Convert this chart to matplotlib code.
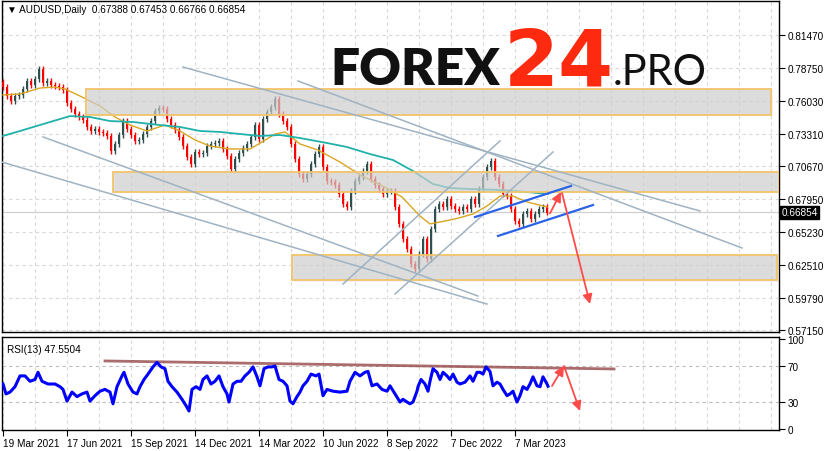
import numpy as np
import matplotlib
matplotlib.use("Agg")
import matplotlib.pyplot as plt
from matplotlib.patches import Rectangle
import matplotlib.transforms as mtransforms

plt.rcParams['font.family'] = ['Liberation Sans', 'DejaVu Sans']

# ---- price data: close of every 4th daily bar ----
first_open = 0.7760
closes = [0.7718, 0.7644, 0.7603, 0.7644, 0.7653, 0.7702, 0.7768, 0.7735, 0.7784, 0.7867,
          0.7751, 0.7768, 0.7735, 0.7727, 0.7718, 0.7694, 0.7587, 0.7537, 0.7496, 0.7471,
          0.7447, 0.7389, 0.7356, 0.7372, 0.7348, 0.7339, 0.7315, 0.7191, 0.7249, 0.7323,
          0.7438, 0.7372, 0.7323, 0.7274, 0.7282, 0.7331, 0.7389, 0.7438, 0.7521, 0.7545,
          0.7537, 0.7455, 0.7405, 0.7364, 0.7307, 0.7232, 0.7142, 0.7084, 0.7183, 0.7166,
          0.7175, 0.7232, 0.7249, 0.7257, 0.7274, 0.7208, 0.7150, 0.7043, 0.7125, 0.7175,
          0.7216, 0.7249, 0.7307, 0.7405, 0.7290, 0.7455, 0.7513, 0.7554, 0.7620, 0.7496,
          0.7438, 0.7389, 0.7249, 0.7125, 0.7002, 0.6960, 0.7002, 0.7084, 0.7166, 0.7224,
          0.7059, 0.6944, 0.6936, 0.6911, 0.6837, 0.6754, 0.6730, 0.6862, 0.6944, 0.6977,
          0.7026, 0.7084, 0.6960, 0.6911, 0.6878, 0.6837, 0.6862, 0.6862, 0.6730, 0.6590,
          0.6466, 0.6384, 0.6260, 0.6219, 0.6342, 0.6466, 0.6301, 0.6548, 0.6713, 0.6754,
          0.6730, 0.6796, 0.6738, 0.6713, 0.6697, 0.6730, 0.6713, 0.6796, 0.6754, 0.6878,
          0.6977, 0.7059, 0.7109, 0.6977, 0.6919, 0.6837, 0.6820, 0.6713, 0.6614, 0.6590,
          0.6672, 0.6697, 0.6631, 0.6672, 0.6713, 0.6730, 0.66854]
bar_step = 4
wick = 0.0025

# moving averages (bar index, price)
ma_fast_x = [0, 17, 37, 52, 62, 77, 97, 112, 127, 144, 162, 177, 192, 207, 227, 247, 259, 272,
             282, 297, 315, 337, 359, 382, 399, 417, 427, 437, 452, 470, 484, 497, 510, 524, 544]
ma_fast_y = [0.7653, 0.7661, 0.7710, 0.7718, 0.7702, 0.7644, 0.7562, 0.7471, 0.7405, 0.7356,
             0.7405, 0.7356, 0.7282, 0.7232, 0.7208, 0.7208, 0.7265, 0.7331, 0.7348, 0.7249,
             0.7199, 0.7100, 0.6985, 0.6894, 0.6812, 0.6655, 0.6590, 0.6606, 0.6631, 0.6672,
             0.6738, 0.6820, 0.6820, 0.6771, 0.6730]
ma_slow_x = [0, 17, 47, 67, 87, 107, 130, 157, 177, 197, 217, 237, 257, 277, 297, 324, 344,
             367, 390, 410, 430, 447, 467, 497, 524, 545]
ma_slow_y = [0.7315, 0.7356, 0.7430, 0.7479, 0.7471, 0.7438, 0.7430, 0.7405, 0.7389, 0.7356,
             0.7348, 0.7331, 0.7315, 0.7323, 0.7298, 0.7257, 0.7224, 0.7166, 0.7117, 0.7026,
             0.6919, 0.6886, 0.6878, 0.6870, 0.6853, 0.6837]

# zones (x0, x1, price low, price high)
zones = [(83, 768, 0.7489, 0.7702),
         (110, 776, 0.6857, 0.7018),
         (289, 774, 0.6125, 0.6334)]
# gray trend lines (x0, p0, x1, p1)
gray_lines = [(180, 0.7883, 697, 0.6697),
              (295, 0.7768, 739, 0.6392),
              (-1, 0.7100, 484, 0.5930),
              (40, 0.7307, 475, 0.5996),
              (340, 0.6095, 497, 0.7274),
              (392, 0.6013, 550, 0.7183)]
blue_lines = [(472, 0.6647, 568, 0.6903),
              (495, 0.6491, 590, 0.6746)]
price_arrows = [(547, 0.6677, 558, 0.6853),
                (559, 0.6845, 587, 0.5930)]
bid = 0.66854

# RSI
rsi_x = [0, 3, 7, 12, 17, 22, 27, 32, 35, 39,
         45, 52, 57, 60, 64, 69, 74, 79, 84, 87,
         92, 97, 102, 107, 110, 114, 119, 121, 125, 130,
         134, 137, 141, 145, 150, 154, 158, 162, 165, 169,
         174, 179, 183, 186, 189, 193, 197, 200, 204, 208,
         212, 216, 220, 224, 226, 230, 234, 238, 242, 246,
         250, 254, 257, 261, 265, 269, 272, 276, 280, 284,
         287, 290, 294, 297, 300, 304, 308, 313, 316, 320,
         324, 330, 337, 344, 347, 352, 357, 362, 365, 369,
         374, 379, 384, 387, 392, 397, 400, 404, 407, 410,
         414, 415, 418, 422, 425, 427, 430, 434, 437, 440,
         444, 447, 450, 454, 457, 462, 467, 470, 474, 477,
         480, 483, 487, 490, 494, 497, 500, 504, 507, 510,
         514, 517, 520, 524, 527, 530, 534, 537, 540, 544,
         545]
rsi_y = [50, 39, 41, 47, 59, 59, 53, 55, 63, 53,
         50, 50, 47, 44, 31, 41, 36, 39, 41, 31,
         37, 42, 44, 41, 28, 47, 59, 63, 50, 41,
         39, 47, 55, 61, 69, 74, 69, 67, 53, 47,
         41, 33, 26, 20, 44, 47, 44, 55, 59, 50,
         53, 59, 47, 39, 30, 50, 53, 53, 59, 63,
         69, 58, 48, 67, 69, 69, 70, 55, 53, 48,
         31, 28, 36, 41, 48, 53, 61, 59, 61, 37,
         44, 42, 41, 42, 53, 63, 59, 63, 64, 48,
         50, 44, 42, 48, 39, 30, 33, 30, 28, 30,
         42, 47, 55, 50, 42, 53, 67, 63, 55, 63,
         59, 55, 61, 52, 50, 52, 59, 53, 63, 63,
         61, 69, 64, 48, 52, 50, 44, 37, 39, 42,
         30, 37, 47, 44, 50, 58, 48, 47, 58, 50,
         47.55]
rsi_trend = (102, 75.6, 611, 66.7)
rsi_arrows = [(549, 47.8, 561, 70), (561, 70, 577, 20)]

date_ticks = [0, 64, 128, 192, 256, 320, 384, 448, 512]
date_labels = ['19 Mar 2021', '17 Jun 2021', '15 Sep 2021', '14 Dec 2021', '14 Mar 2022',
               '10 Jun 2022', '8 Sep 2022', '7 Dec 2022', '7 Mar 2023']
price_ticks = [0.81470, 0.78750, 0.76030, 0.73310, 0.70670, 0.67950, 0.65230, 0.62510,
               0.59790, 0.57150]

W, H = 831, 452
fig = plt.figure(figsize=(W / 100, H / 100), dpi=100)
ax = fig.add_axes([2 / W, 1 - 333 / H, 777 / W, 331 / H])
ax2 = fig.add_axes([2 / W, 1 - 431 / H, 777 / W, 93 / H])

grid_kw = dict(color='#d9d9d9', lw=0.8, ls=(0, (3, 3)), zorder=0)
xlim = (-1, 776)
for a in (ax, ax2):
    a.set_xlim(*xlim)
    for gx in range(0, 772, 32):
        a.axvline(gx, **grid_kw)
    for s in a.spines.values():
        s.set_linewidth(1.0)
        s.set_color('black')

# ---- main price panel ----
ax.set_ylim(0.56997, 0.84271)
for p in price_ticks:
    ax.axhline(p, **grid_kw)
ax.axhline(bid, color='#d0d0d0', lw=0.9, zorder=1)

closes_a = np.array(closes)
opens_a = np.concatenate([[first_open], closes_a[:-1]])
bx = np.arange(len(closes_a)) * bar_step
up = closes_a >= opens_a
cols = np.where(up, '#2f4f4f', '#ff0000')
hi = np.maximum(opens_a, closes_a) + wick
lo = np.minimum(opens_a, closes_a) - wick
ax.vlines(bx, lo, hi, colors=cols, lw=1, zorder=3)
ax.bar(bx, np.abs(closes_a - opens_a) + 0.0004, bottom=np.minimum(opens_a, closes_a) - 0.0002,
       width=2.6, color=cols, zorder=3, linewidth=0)

ax.plot(ma_fast_x, ma_fast_y, color='#daa520', lw=1.0, zorder=4)
ax.plot(ma_slow_x, ma_slow_y, color='#20b2aa', lw=1.3, zorder=4)

for x0, x1, p0, p1 in zones:
    ax.add_patch(Rectangle((x0 + 2, p0 - 0.0012), x1 - x0, p1 - p0, facecolor='#bdbdbd',
                           alpha=0.18, edgecolor='none', zorder=5))
    ax.add_patch(Rectangle((x0, p0), x1 - x0, p1 - p0, facecolor='#cfcfcf', alpha=0.62,
                           edgecolor='none', zorder=6))
    ax.add_patch(Rectangle((x0, p0), x1 - x0, p1 - p0, facecolor='none',
                           edgecolor='#f2c46a', lw=1.3, zorder=7))

for x0, p0, x1, p1 in gray_lines:
    ax.plot([x0, x1], [p0, p1], color='#9fb3c3', lw=1.1, zorder=8)
for x0, p0, x1, p1 in blue_lines:
    ax.plot([x0, x1], [p0, p1], color='#2a62e8', lw=1.6, zorder=8)
for x0, p0, x1, p1 in price_arrows:
    ax.annotate('', xy=(x1, p1), xytext=(x0, p0),
                arrowprops=dict(arrowstyle='-|>', color='#ff4a4a', lw=1.3,
                                mutation_scale=14, shrinkA=0, shrinkB=0), zorder=9)

ax.set_xticks([])
ax.yaxis.tick_right()
ax.set_yticks(price_ticks)
ax.set_yticklabels(['%.5f' % p for p in price_ticks])
ax.tick_params(axis='y', direction='out', length=4, width=0.8, labelsize=7.2, pad=2)

trans = mtransforms.blended_transform_factory(ax.transAxes, ax.transData)
ax.text(1.003, bid, '%.5f' % bid, transform=trans, ha='left', va='center', fontsize=7.2,
        color='white', bbox=dict(facecolor='black', edgecolor='black', pad=1.2), zorder=10)

ax.text(0.007, 0.975, '\u25bc AUDUSD,Daily  0.67388 0.67453 0.66766 0.66854',
        transform=ax.transAxes, ha='left', va='center', fontsize=7.2, zorder=10)

# watermark
fig.text(330 / W, 1 - 85 / H, 'FOREX', fontsize=37, fontweight='heavy', family='Lato',
         color='#111111', ha='left', va='baseline')
fig.text(504 / W, 1 - 85 / H, '24', fontsize=57, fontweight='bold', family='DejaVu Sans',
         color='#fe2a10', ha='left', va='baseline')
fig.text(613 / W, 1 - 85 / H, '.PRO', fontsize=30, fontweight='normal', family='Lato',
         color='#111111', ha='left', va='baseline')

# ---- RSI panel ----
ax2.set_ylim(-1.1, 102.2)
for lv in (70, 30):
    ax2.axhline(lv, color='#bdbdbd', lw=0.8, ls=(0, (3, 3)), zorder=0)
ax2.plot([rsi_trend[0], rsi_trend[2]], [rsi_trend[1], rsi_trend[3]], color='#8e3b3b',
         lw=2.0, alpha=0.75, zorder=2)
ax2.plot(rsi_x, rsi_y, color='#0000ff', lw=2.2, zorder=3)
for x0, v0, x1, v1 in rsi_arrows:
    ax2.annotate('', xy=(x1, v1), xytext=(x0, v0),
                 arrowprops=dict(arrowstyle='-|>', color='#ff4a4a', lw=1.3,
                                 mutation_scale=14, shrinkA=0, shrinkB=0), zorder=9)
ax2.yaxis.tick_right()
ax2.set_yticks([100, 70, 30, 0])
ax2.set_yticklabels(['100', '70', '30', '0'])
ax2.tick_params(axis='y', direction='out', length=4, width=0.8, labelsize=7.2, pad=2)
ax2.set_xticks(date_ticks)
ax2.set_xticklabels(date_labels, ha='left')
ax2.tick_params(axis='x', direction='out', length=4, width=0.8, labelsize=7.2, pad=2)
ax2.text(0.007, 0.87, 'RSI(13) 47.5504', transform=ax2.transAxes, ha='left', va='center',
         fontsize=7.2, zorder=10)

fig.savefig('out.png', dpi=100)
